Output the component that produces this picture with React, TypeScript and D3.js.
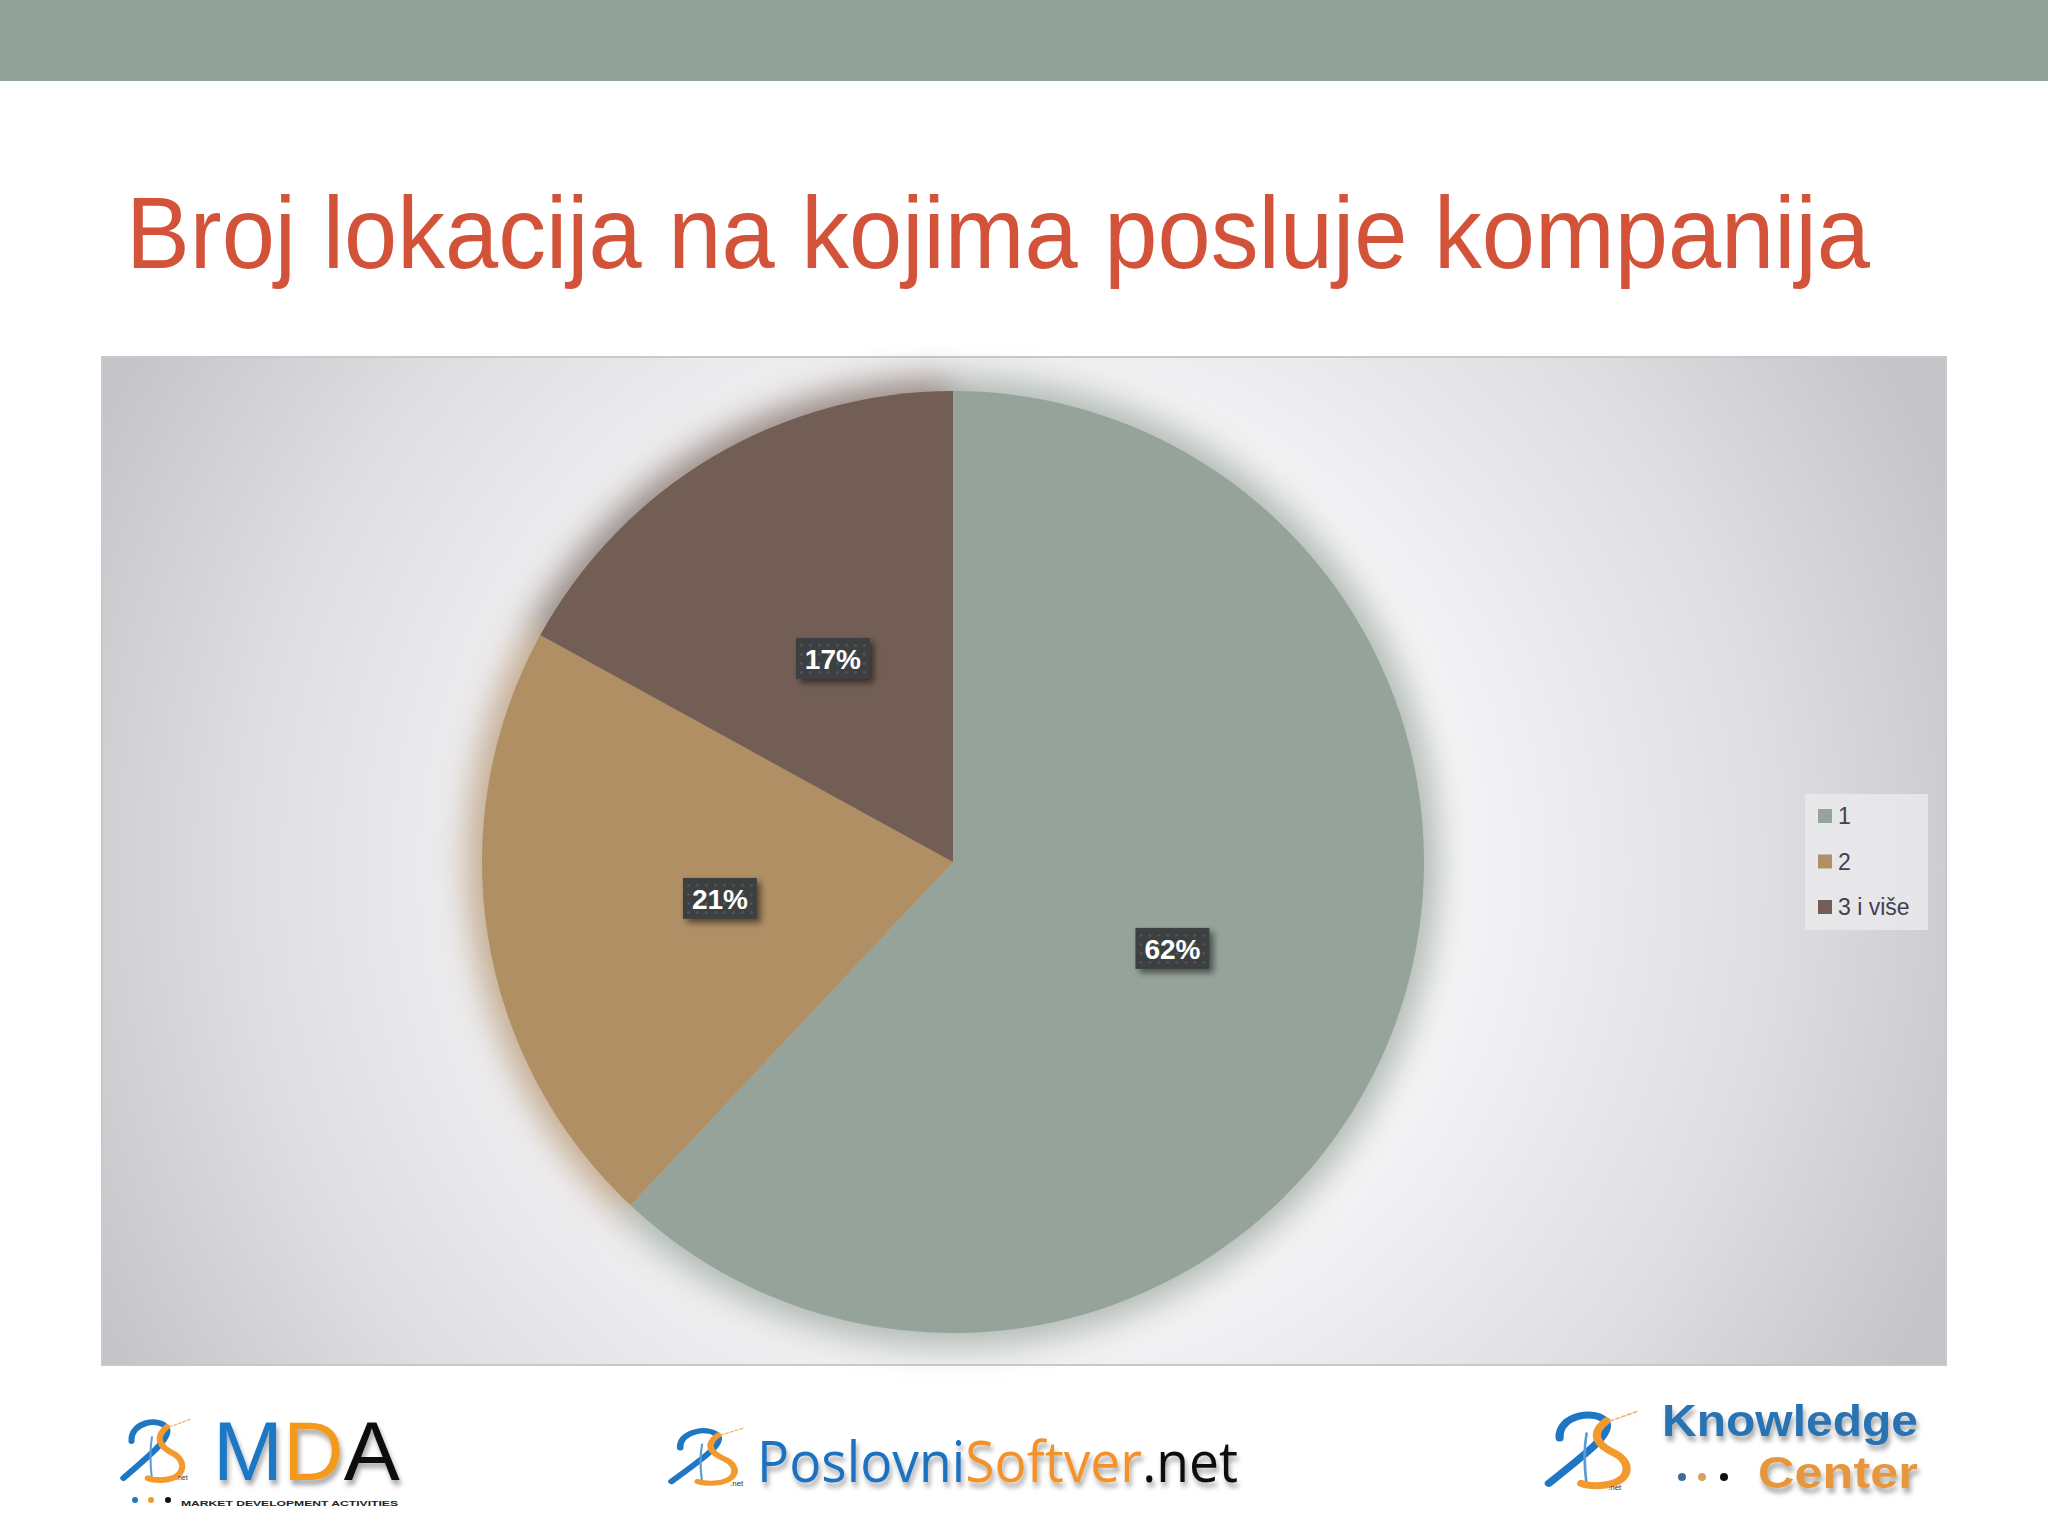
import React from 'react';
import * as d3 from 'd3';

const categories = ['1', '2', '3 i više'];
const values = [62, 21, 17];
const labels = ['62%', '21%', '17%'];
const sliceColors = ['#95A39A', '#B08F65', '#725E54'];
const titleText = 'Broj lokacija na kojima posluje kompanija';

const W = 2048;
const H = 1536;
const CX = 953;
const CY = 862;
const R = 471;
const LABEL_R = 236;

function Swoosh({ x, y, w, h }: { x: number; y: number; w: number; h: number }) {
  const sx = w / 100;
  const sy = h / 100;
  return (
    <g transform={`translate(${x},${y}) scale(${sx},${sy})`} fill="none" strokeLinecap="round">
      <path d="M 14 36 C 12 6, 56 -2, 66 16 C 72 30, 48 52, 2 94" stroke="#1F77C4" strokeWidth={9} />
      <path d="M 44 30 C 40 55, 42 78, 44 96" stroke="#5A9BD5" strokeWidth={3} />
      <path d="M 66 14 C 48 30, 54 44, 76 56 C 96 68, 94 96, 56 97 C 46 97, 42 96, 38 94" stroke="#F39A2E" strokeWidth={9} />
      <path d="M 70 14 L 100 2" stroke="#F3B26A" strokeWidth={2} strokeDasharray="4 3" />
    </g>
  );
}

export default function App() {
  const pie = d3.pie<number>().sort(null).value((d) => d).startAngle(0).endAngle(2 * Math.PI);
  const arcs = pie(values);
  const arc = d3.arc<d3.PieArcDatum<number>>().innerRadius(0).outerRadius(R);
  const haloArc = d3.arc<d3.PieArcDatum<number>>().innerRadius(0).outerRadius(R + 14);
  const labelArc = d3.arc<d3.PieArcDatum<number>>().innerRadius(LABEL_R).outerRadius(LABEL_R);

  const legendY = d3.scalePoint<string>().domain(categories).range([816, 907]);

  return (
    <svg width={W} height={H} style={{ position: 'absolute', left: 0, top: 0, display: 'block' }} fontFamily="'Liberation Sans', Arial, sans-serif">
      <defs>
        <radialGradient id="bg" gradientUnits="userSpaceOnUse" cx={1010} cy={870} r={1020}>
          <stop offset="0" stopColor="#FFFFFF" />
          <stop offset="0.45" stopColor="#F3F2F4" />
          <stop offset="0.75" stopColor="#DEDDE0" />
          <stop offset="1" stopColor="#C5C4C8" />
        </radialGradient>
        <filter id="halo" x="-20%" y="-20%" width="140%" height="140%">
          <feGaussianBlur stdDeviation="16" />
        </filter>
        <filter id="boxShadow" x="-30%" y="-30%" width="170%" height="170%">
          <feGaussianBlur in="SourceAlpha" stdDeviation="3" />
          <feOffset dx="4" dy="4" result="b" />
          <feComponentTransfer><feFuncA type="linear" slope="0.5" /></feComponentTransfer>
          <feMerge><feMergeNode /><feMergeNode in="SourceGraphic" /></feMerge>
        </filter>
        <filter id="textShadow" x="-10%" y="-30%" width="120%" height="170%">
          <feGaussianBlur in="SourceAlpha" stdDeviation="2.5" />
          <feOffset dx="2" dy="5" />
          <feComponentTransfer><feFuncA type="linear" slope="0.35" /></feComponentTransfer>
          <feMerge><feMergeNode /><feMergeNode in="SourceGraphic" /></feMerge>
        </filter>
        <pattern id="dots" width="9" height="9" patternUnits="userSpaceOnUse">
          <rect width="9" height="9" fill="#3C3F3F" />
          <circle cx="4.5" cy="4.5" r="1.3" fill="#565A5B" />
        </pattern>
      </defs>

      <rect x={0} y={0} width={W} height={H} fill="#FFFFFF" />
      <rect x={0} y={0} width={W} height={81} fill="#92A39A" />

      <text x={126} y={268} fontSize={102} fill="#D2533A" textLength={1744} lengthAdjust="spacingAndGlyphs">
        {titleText}
      </text>

      <rect x={102} y={357} width={1844} height={1008} fill="url(#bg)" stroke="#C9C9CB" strokeWidth={2} />

      <g transform={`translate(${CX},${CY})`}>
        <g filter="url(#halo)" opacity={0.7}>
          {arcs.map((a, i) => (
            <path key={i} d={haloArc(a) || ''} fill={sliceColors[i]} />
          ))}
        </g>
        {arcs.map((a, i) => (
          <path key={i} d={arc(a) || ''} fill={sliceColors[i]} />
        ))}
        {arcs.map((a, i) => {
          const [lx, ly] = labelArc.centroid(a);
          return (
            <g key={i} transform={`translate(${lx},${ly})`}>
              <rect x={-37} y={-21} width={74} height={41} fill="url(#dots)" filter="url(#boxShadow)" />
              <text x={0} y={10} textAnchor="middle" fontSize={28} fontWeight="bold" fill="#FFFFFF">
                {labels[i]}
              </text>
            </g>
          );
        })}
      </g>

      <rect x={1805} y={794} width={123} height={136} fill="#EAEAEC" opacity={0.85} />
      {categories.map((c, i) => (
        <g key={c}>
          <rect x={1818} y={legendY(c)! - 7} width={14} height={14} fill={sliceColors[i]} />
          <text x={1838} y={legendY(c)! + 8} fontSize={23} fill="#40404F">
            {c}
          </text>
        </g>
      ))}

      {/* MDA logo */}
      <Swoosh x={122} y={1418} w={68} h={64} />
      <text x={176} y={1480} fontSize={7} fill="#333">.net</text>
      <g filter="url(#textShadow)">
        <text x={213} y={1480} fontSize={84}>
          <tspan fill="#1F77C4">M</tspan>
          <tspan fill="#F39A1E">D</tspan>
          <tspan fill="#111111">A</tspan>
        </text>
      </g>
      <circle cx={135} cy={1500} r={3} fill="#1F77C4" />
      <circle cx={151} cy={1500} r={3} fill="#F39A1E" />
      <circle cx={168} cy={1500} r={3} fill="#111111" />
      <text x={181} y={1506} fontSize={8} fontWeight="bold" fill="#222" textLength={217} lengthAdjust="spacingAndGlyphs">
        MARKET DEVELOPMENT ACTIVITIES
      </text>

      {/* PoslovniSoftver logo */}
      <Swoosh x={670} y={1427} w={73} h={58} />
      <text x={730} y={1486} fontSize={8} fill="#333">.net</text>
      <g filter="url(#textShadow)">
        <text x={757} y={1482} fontSize={56} fontFamily="'Open Sans', 'Noto Sans', sans-serif" textLength={481} lengthAdjust="spacingAndGlyphs">
          <tspan fill="#1E72C0">Poslovni</tspan>
          <tspan fill="#F3922A">Softver</tspan>
          <tspan fill="#111111">.net</tspan>
        </text>
      </g>

      {/* Knowledge Center logo */}
      <Swoosh x={1547} y={1410} w={90} h={78} />
      <text x={1608} y={1490} fontSize={8} fill="#333">.net</text>
      <g filter="url(#textShadow)">
        <text x={1662} y={1436} fontSize={45} fontWeight="bold" fill="#2B73B2" textLength={256} lengthAdjust="spacingAndGlyphs">
          Knowledge
        </text>
        <text x={1758} y={1488} fontSize={45} fontWeight="bold" fill="#E6963C" textLength={160} lengthAdjust="spacingAndGlyphs">
          Center
        </text>
      </g>
      <circle cx={1682} cy={1477} r={4} fill="#3C6E9E" />
      <circle cx={1702} cy={1477} r={4} fill="#D4A264" />
      <circle cx={1724} cy={1477} r={4} fill="#111111" />
    </svg>
  );
}
